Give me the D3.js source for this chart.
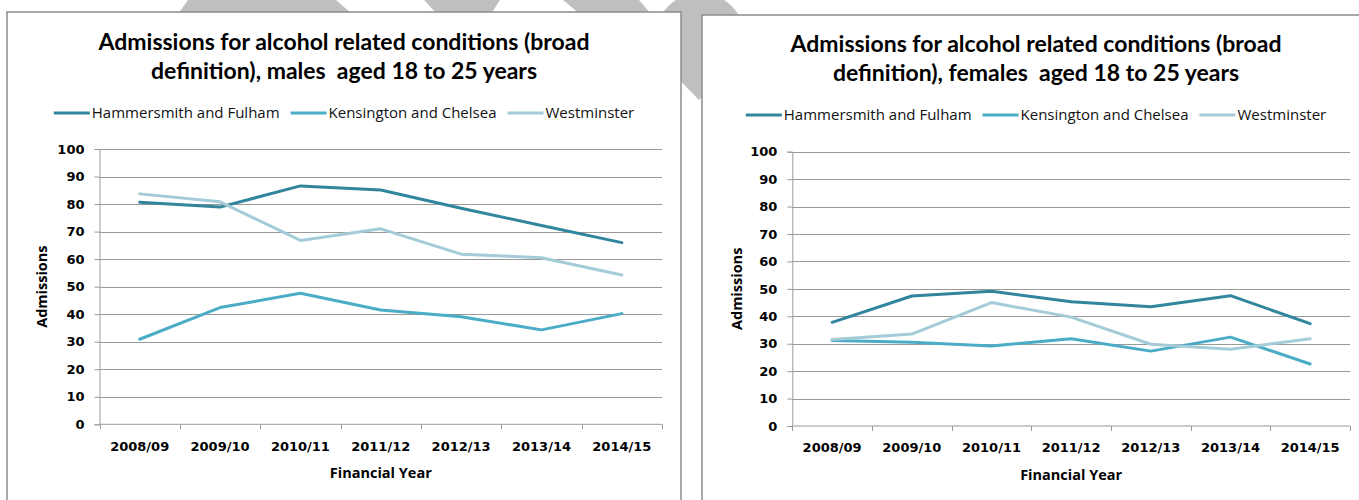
<!DOCTYPE html>
<html>
<head>
<meta charset="utf-8">
<script src="https://cdn.jsdelivr.net/npm/d3@7"></script>
<style>
  body { margin: 0; background: #ffffff; }
  svg { display: block; }
</style>
</head>
<body>
<script>
// values
var years = ["2008/09", "2009/10", "2010/11", "2011/12", "2012/13", "2013/14", "2014/15"];
var boroughs = ["Hammersmith and Fulham", "Kensington and Chelsea", "Westminster"];
var yTicks = [0, 10, 20, 30, 40, 50, 60, 70, 80, 90, 100];

var malesHF = [80.7, 78.9, 86.6, 85.1, 78.5, 72.2, 66.0];
var malesKC = [30.9, 42.4, 47.6, 41.5, 39.1, 34.3, 40.2];
var malesWM = [83.7, 80.8, 66.8, 71.0, 61.8, 60.5, 54.2];

var femalesHF = [37.8, 47.4, 49.1, 45.3, 43.5, 47.5, 37.3];
var femalesKC = [31.2, 30.5, 29.2, 31.8, 27.3, 32.4, 22.6];
var femalesWM = [31.5, 33.5, 45.0, 39.7, 29.8, 28.0, 31.8];

var colors = ["#31859c", "#4bacc6", "#a3cbd8"];

var width = 1359, height = 500;

var svg = d3.select("body").append("svg")
    .attr("width", width)
    .attr("height", height);

// grey slide decoration behind the charts
var deco = svg.append("g").attr("fill", "#bfbfbf");
deco.append("path").attr("d", "M188,0 L336,0 L352,14 L178,14 Z");
deco.append("path").attr("d", "M424,0 L500,0 L491,14 L437,14 Z");
deco.append("path").attr("d", "M563,0 L639,0 L651,14 L580,14 Z");
deco.append("circle").attr("cx", 700).attr("cy", 38).attr("r", 45);
deco.append("path").attr("d", "M660,60 L740,60 L699,100 Z");

function drawChart(opt) {
    var g = svg.append("g");

    // frame
    g.append("rect")
        .attr("x", opt.frame[0])
        .attr("y", opt.frame[1])
        .attr("width", opt.frame[2])
        .attr("height", 600)
        .attr("fill", "#ffffff")
        .attr("stroke", "#8c8c8c")
        .attr("stroke-width", 1.5);

    var cx = opt.frame[0] + opt.frame[2] / 2;

    // title
    g.selectAll(".title")
        .data(opt.title)
        .enter().append("text")
        .attr("x", cx)
        .attr("y", function(d, i) { return opt.titleY + i * 29; })
        .attr("text-anchor", "middle")
        .style("white-space", "pre")
        .style("font-family", "Lato, 'Open Sans', sans-serif")
        .style("font-weight", "bold")
        .style("font-size", "23px")
        .attr("fill", "#000")
        .text(function(d) { return d; });

    // legend
    var leg = g.append("g");
    var lx = 0;
    boroughs.forEach(function(name, i) {
        leg.append("line")
            .attr("x1", lx).attr("x2", lx + 36)
            .attr("y1", 0).attr("y2", 0)
            .attr("stroke", colors[i])
            .attr("stroke-width", 3);
        var t = leg.append("text")
            .attr("x", lx + 38)
            .attr("y", 5)
            .style("font-family", "'Open Sans', sans-serif")
            .style("font-size", "15px")
            .attr("fill", "#111")
            .text(name);
        lx += 38 + t.node().getComputedTextLength() + 11;
    });
    lx -= 11;
    leg.attr("transform", "translate(" + (cx - lx / 2) + "," + opt.legendY + ")");

    // scales
    var x = d3.scaleBand().domain(years).range([opt.plot[0], opt.plot[1]]).padding(0);
    var y = d3.scaleLinear().domain([0, 100]).range([opt.plot[3], opt.plot[2]]);

    // gridlines
    g.selectAll(".grid")
        .data(yTicks.filter(function(d) { return d > 0; }))
        .enter().append("line")
        .attr("x1", opt.plot[0]).attr("x2", opt.plot[1])
        .attr("y1", function(d) { return Math.round(y(d)) + 0.5; })
        .attr("y2", function(d) { return Math.round(y(d)) + 0.5; })
        .attr("stroke", "#9a9a9a")
        .attr("stroke-width", 1);

    // y axis
    var yAxis = g.append("g")
        .attr("transform", "translate(" + opt.plot[0] + ",0)")
        .call(d3.axisLeft(y).tickValues(yTicks).tickSize(5).tickPadding(10));
    yAxis.select(".domain").attr("stroke", "#9a9a9a");
    yAxis.selectAll(".tick line").attr("stroke", "#9a9a9a");
    yAxis.selectAll("text")
        .style("font-family", "'DejaVu Sans', sans-serif")
        .style("font-weight", "bold")
        .style("font-size", "13px")
        .attr("fill", "#000");

    // x axis: labels at band centres, ticks at band edges
    var xAxis = g.append("g")
        .attr("transform", "translate(0," + opt.plot[3] + ")")
        .call(d3.axisBottom(x).tickSize(0).tickPadding(17));
    xAxis.select(".domain").remove();
    xAxis.selectAll("text")
        .style("font-family", "'DejaVu Sans', sans-serif")
        .style("font-weight", "bold")
        .style("font-size", "13px")
        .attr("fill", "#000");
    g.append("line")
        .attr("x1", opt.plot[0]).attr("x2", opt.plot[1])
        .attr("y1", opt.plot[3]).attr("y2", opt.plot[3])
        .attr("stroke", "#9a9a9a");
    var edges = years.map(function(d) { return x(d); }).concat([opt.plot[1]]);
    g.selectAll(".xtick")
        .data(edges)
        .enter().append("line")
        .attr("x1", function(d) { return Math.round(d) + 0.5; })
        .attr("x2", function(d) { return Math.round(d) + 0.5; })
        .attr("y1", opt.plot[3]).attr("y2", opt.plot[3] + 5)
        .attr("stroke", "#9a9a9a");

    // axis titles
    g.append("text")
        .attr("x", (opt.plot[0] + opt.plot[1]) / 2)
        .attr("y", opt.plot[3] + 54)
        .attr("text-anchor", "middle")
        .style("font-family", "'Open Sans', sans-serif")
        .style("font-weight", "bold")
        .style("font-size", "14.5px")
        .attr("fill", "#000")
        .text("Financial Year");

    g.append("text")
        .attr("transform", "translate(" + (opt.frame[0] + 40) + "," + ((opt.plot[2] + opt.plot[3]) / 2) + ") rotate(-90)")
        .attr("text-anchor", "middle")
        .style("font-family", "'Open Sans', sans-serif")
        .style("font-weight", "bold")
        .style("font-size", "14.5px")
        .attr("fill", "#000")
        .text("Admissions");

    // lines
    var line = d3.line()
        .x(function(d, i) { return x(years[i]) + x.bandwidth() / 2; })
        .y(function(d) { return y(d); });

    g.selectAll(".series")
        .data(opt.series)
        .enter().append("path")
        .attr("d", line)
        .attr("fill", "none")
        .attr("stroke", function(d, i) { return colors[i]; })
        .attr("stroke-width", 3)
        .attr("stroke-linejoin", "round")
        .attr("stroke-linecap", "round");
}

drawChart({
    frame: [7, 12, 674],
    title: ["Admissions for alcohol related conditions (broad", "definition), males  aged 18 to 25 years"],
    titleY: 50,
    legendY: 113,
    plot: [99.5, 662, 149, 424.3],
    series: [malesHF, malesKC, malesWM]
});

drawChart({
    frame: [702, 15, 668],
    title: ["Admissions for alcohol related conditions (broad", "definition), females  aged 18 to 25 years"],
    titleY: 52,
    legendY: 115,
    plot: [792.3, 1350, 151.7, 426],
    series: [femalesHF, femalesKC, femalesWM]
});
</script>
</body>
</html>
